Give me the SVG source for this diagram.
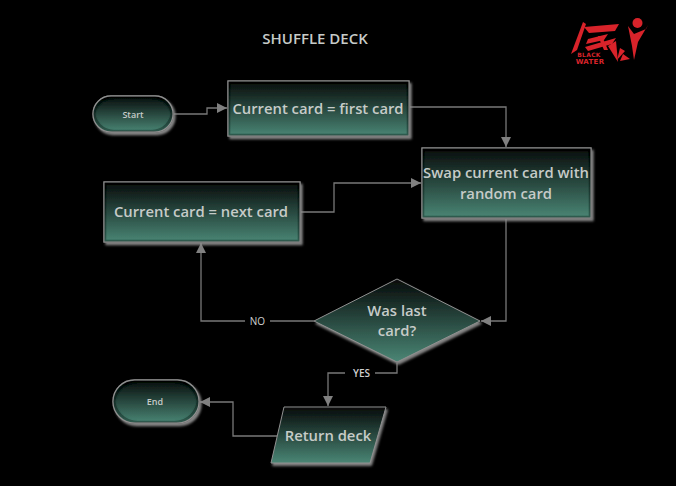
<svg xmlns="http://www.w3.org/2000/svg" width="676" height="486" viewBox="0 0 676 486">
<style>
.sh{fill:url(#g);stroke:#909090;stroke-width:1.3;filter:url(#s)}
.dm{fill:url(#g);stroke:#909090;stroke-width:1;filter:url(#d)}
.t{font-family:"Open Sans","Noto Sans",sans-serif;font-weight:600;fill:#c6cbc8;text-anchor:middle}
.b{font-size:14.800px}
.m{font-size:9px}
.c{fill:none;stroke:#787878;stroke-width:1.3}
.l{font-family:"Open Sans","Noto Sans",sans-serif;font-size:10px;fill:#cfcfcf;text-anchor:middle}
</style>
<defs>
<linearGradient id="g" x1="0" y1="0" x2="0" y2="1"><stop offset="0" stop-color="#070b0a"/><stop offset="1" stop-color="#4a8675"/></linearGradient>
<filter id="d" x="-10%" y="-15%" width="120%" height="135%"><feDropShadow dx="1.500" dy="2.500" stdDeviation="0.8" flood-color="#8c8c8c" flood-opacity="0.95"/></filter>
<filter id="s" x="-10%" y="-15%" width="120%" height="135%">
<feDropShadow in="SourceAlpha" dx="2" dy="2.500" stdDeviation="0.8" flood-color="#8c8c8c" flood-opacity="0.95" result="sh"/>
<feMorphology in="SourceAlpha" operator="erode" radius="1.200" result="e1"/>
<feMorphology in="SourceAlpha" operator="erode" radius="2.800" result="e2"/>
<feGaussianBlur in="e2" stdDeviation="0.6" result="e3"/>
<feComposite in="e1" in2="e3" operator="out" result="band"/>
<feFlood flood-color="#000" flood-opacity="0.55"/>
<feComposite in2="band" operator="in" result="dark"/>
<feMerge><feMergeNode in="sh"/><feMergeNode in="SourceGraphic"/><feMergeNode in="dark"/></feMerge>
</filter>
<marker id="a" markerUnits="userSpaceOnUse" markerWidth="11" markerHeight="10" refX="10" refY="5" orient="auto"><path d="M0 0L10 5L0 10Z" fill="#808080"/></marker>
</defs>
<rect width="676" height="486" fill="#000"/>
<text x="315" y="44" font-family="Open Sans,Noto Sans,sans-serif" font-size="15" font-weight="600" fill="#c6cbc8" text-anchor="middle">SHUFFLE DECK</text>
<g id="logo" fill="#d8232a">
<path d="M583 22L586 24L577 50L571 54Z"/>
<path d="M584 27L619 24L615 31L589 33Z"/>
<path d="M588 39L608 34L604 40L586 44Z"/>
<path d="M585 47L616 38L612 44L588 51Z"/>
<path d="M598 36L602 36L608 50L604 50Z"/>
<path d="M616 41L618 62L613 54L608 46Z"/>
<path d="M620 48L625 51L617 60ZM623 54L630 59L620 61Z"/>
<circle cx="637.500" cy="23" r="5"/>
<path d="M628 26L634 34L646 29L648 25L638 42L634 60L632 46Z"/>
<text x="589" y="57" font-family="DejaVu Sans,sans-serif" font-size="6" font-weight="700" text-anchor="middle" letter-spacing=".3">BLACK</text>
<text x="590" y="64" font-family="DejaVu Sans,sans-serif" font-size="7" font-weight="700" text-anchor="middle" letter-spacing=".3">WATER</text>
</g>
<g id="connectors">
<path class="c" d="M174 114H207V108H227" marker-end="url(#a)"/>
<path class="c" d="M409 107H506V147" marker-end="url(#a)"/>
<path class="c" d="M301 212H334V183H421" marker-end="url(#a)"/>
<path class="c" d="M506 219V321H481" marker-end="url(#a)"/>
<path class="c" d="M314 321H270M245 321H201V243" marker-end="url(#a)"/>
<path class="c" d="M397 363V373H375M345 373H328V406" marker-end="url(#a)"/>
<path class="c" d="M277 436H233V402H200" marker-end="url(#a)"/>
<text class="l" x="257.500" y="324.500">NO</text>
<text class="l" x="361.500" y="376.500" font-weight="600">YES</text>
</g>
<g id="start"><rect class="sh" x="93" y="96" width="80" height="36" rx="18"/><text class="t m" x="133" y="117.500">Start</text></g>
<g id="first"><rect class="sh" x="228" y="81" width="181" height="55"/><text class="t b" x="318" y="113.500">Current card = first card</text></g>
<g id="swap"><rect class="sh" x="422" y="148" width="169" height="70"/><text class="t b" x="506" y="178">Swap current card with</text><text class="t b" x="506" y="199">random card</text></g>
<g id="next"><rect class="sh" x="104" y="182" width="196" height="60"/><text class="t b" x="201" y="217">Current card = next card</text></g>
<g id="decision"><path class="dm" d="M397 279L480 321L397 362L314 321Z"/><text class="t b" x="397" y="316">Was last</text><text class="t b" x="397" y="336">card?</text></g>
<g id="return"><path class="dm" d="M284 407H386L370 463H271Z"/><text class="t b" x="328" y="441">Return deck</text></g>
<g id="end"><rect class="sh" x="113" y="380" width="86" height="43" rx="21.500"/><text class="t m" x="155" y="405">End</text></g>
</svg>
